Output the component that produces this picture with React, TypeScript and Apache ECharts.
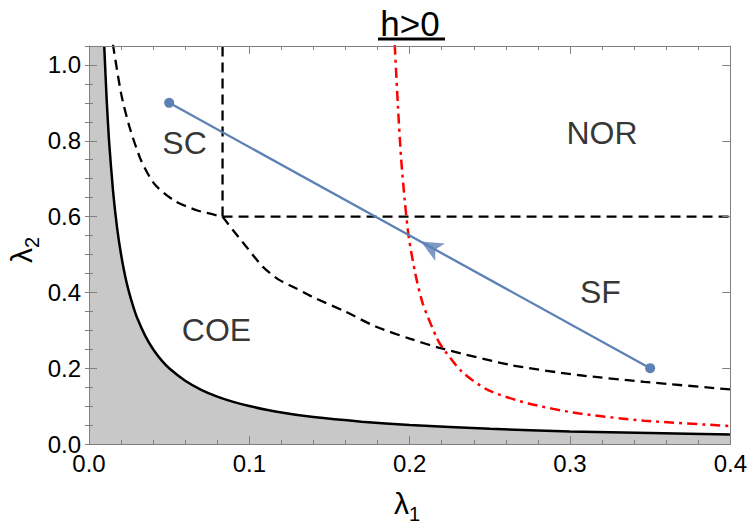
import React, { useEffect, useRef } from "react";
import * as echarts from "echarts";

// Solid boundary (gray region below)
const solidX = [0.0095, 0.011, 0.0125, 0.015, 0.0175, 0.02, 0.0225, 0.025, 0.0275, 0.03, 0.035, 0.04, 0.045, 0.05, 0.06, 0.07, 0.08, 0.09, 0.1, 0.12, 0.14, 0.17, 0.2, 0.25, 0.3, 0.35, 0.4];
const solidY = [1.05, 0.91, 0.8, 0.667, 0.571, 0.5, 0.444, 0.4, 0.364, 0.333, 0.286, 0.25, 0.222, 0.2, 0.167, 0.143, 0.125, 0.111, 0.1, 0.083, 0.071, 0.059, 0.05, 0.04, 0.033, 0.029, 0.025];

// Dashed black curve, upper branch (above the corner)
const dashUpX = [0.0149, 0.0201, 0.0253, 0.0325, 0.0408, 0.0532, 0.0677, 0.0833];
const dashUpY = [1.055, 0.923, 0.836, 0.748, 0.686, 0.642, 0.616, 0.6];
// Dashed black curve, lower branch (below the corner)
const dashLoX = [0.0833, 0.0896, 0.098, 0.1083, 0.1186, 0.129, 0.139, 0.16, 0.1787, 0.2, 0.22, 0.2635, 0.305, 0.3464, 0.4];
const dashLoY = [0.6, 0.565, 0.521, 0.468, 0.433, 0.411, 0.389, 0.349, 0.31, 0.278, 0.252, 0.208, 0.182, 0.164, 0.144];

// Red dash-dot curve
const redX = [0.1907, 0.1927, 0.1946, 0.1969, 0.1994, 0.2035, 0.2082, 0.217, 0.22, 0.2325, 0.249, 0.274, 0.305, 0.3464, 0.4];
const redY = [1.053, 0.89, 0.758, 0.644, 0.547, 0.45, 0.37, 0.279, 0.257, 0.191, 0.142, 0.107, 0.081, 0.0616, 0.0475];

// Phase boundary lines
const cornerX = 0.0833;
const cornerY = 0.6;

// Blue path
const pathX = [0.05, 0.35];
const pathY = [0.9, 0.2];
const arrowPos = [0.207, 0.534];

// Region labels
const regionNames = ["SC", "NOR", "COE", "SF"];
const regionX = [0.0596, 0.32, 0.0795, 0.319];
const regionY = [0.794, 0.82, 0.3, 0.4];

const zip = (xs: number[], ys: number[]) => xs.map((x, i) => [x, ys[i]]);

const FONT = "Liberation Sans, Arial, sans-serif";
const AX = "#808080";
const DASH = [10, 6];

export default function App() {
  const ref = useRef<HTMLDivElement>(null);
  useEffect(() => {
    const chart = echarts.init(ref.current!, null, { renderer: "svg" });
    const grid = { left: 89, right: 17, top: 46, bottom: 81 };
    const baseX = () => ({ type: "value", min: 0, max: 0.4, splitLine: { show: false }, z: 10 });
    const baseY = () => ({ type: "value", min: 0, max: 1.05, splitLine: { show: false }, z: 10 });
    const tickMaj = () => ({ show: true, inside: true, length: 8, lineStyle: { color: AX, width: 1 } });
    const tickMin = () => ({ show: true, inside: true, length: 4, lineStyle: { color: AX, width: 1 } });
    const minor = () => ({ show: true, splitNumber: 5, length: 4, lineStyle: { color: AX, width: 1 } });
    const line = () => ({ show: true, onZero: false, lineStyle: { color: AX, width: 1 } });
    chart.setOption({
      animation: false,
      backgroundColor: "#ffffff",
      grid,
      xAxis: [
        {
          ...baseX(),
          position: "bottom",
          interval: 0.1,
          axisLine: line(),
          axisTick: tickMaj(),
          minorTick: minor(),
          axisLabel: { color: "#000", fontSize: 24, fontFamily: FONT, margin: 7, formatter: (v: number) => v.toFixed(1) },
        },
        {
          ...baseX(),
          position: "top",
          interval: 0.1,
          axisLine: line(),
          axisTick: tickMaj(),
          minorTick: minor(),
          axisLabel: { show: false },
        },
      ],
      yAxis: [
        {
          ...baseY(),
          position: "left",
          interval: 0.2,
          axisLine: line(),
          axisTick: tickMaj(),
          axisLabel: {
            color: "#000", fontSize: 24, fontFamily: FONT, margin: 8,
            formatter: (v: number) => (Math.abs(v * 5 - Math.round(v * 5)) < 1e-6 ? v.toFixed(1) : ""),
          },
        },
        {
          ...baseY(),
          position: "left",
          interval: 0.05,
          axisLine: { show: false },
          axisTick: tickMin(),
          axisLabel: { show: false },
        },
        {
          ...baseY(),
          position: "right",
          interval: 0.2,
          axisLine: line(),
          axisTick: tickMaj(),
          axisLabel: { show: false },
        },
        {
          ...baseY(),
          position: "right",
          interval: 0.05,
          axisLine: { show: false },
          axisTick: tickMin(),
          axisLabel: { show: false },
        },
      ],
      series: [
        {
          type: "line",
          data: [[0, 1.05], ...zip(solidX, solidY)],
          symbol: "none",
          lineStyle: { width: 0 },
          areaStyle: { color: "#c8c8c8", opacity: 1 },
          z: 1,
        },
        {
          type: "line",
          data: zip(solidX, solidY),
          symbol: "none",
          smooth: 0.2,
          lineStyle: { color: "#000", width: 2.5 },
          z: 2,
        },
        {
          type: "line",
          data: zip(dashUpX, dashUpY),
          symbol: "none",
          smooth: 0.25,
          lineStyle: { color: "#000", width: 2.3, type: DASH },
          z: 2,
        },
        {
          type: "line",
          data: zip(dashLoX, dashLoY),
          symbol: "none",
          smooth: 0.25,
          lineStyle: { color: "#000", width: 2.3, type: DASH },
          z: 2,
        },
        {
          type: "line",
          data: [[cornerX, cornerY], [cornerX, 1.05]],
          symbol: "none",
          lineStyle: { color: "#000", width: 2.3, type: DASH },
          z: 2,
        },
        {
          type: "line",
          data: [[cornerX, cornerY], [0.4, cornerY]],
          symbol: "none",
          lineStyle: { color: "#000", width: 2.3, type: DASH },
          z: 2,
        },
        {
          type: "line",
          data: zip(redX, redY),
          symbol: "none",
          smooth: 0.25,
          lineStyle: { color: "#ff0000", width: 2.5, type: [10, 5, 3, 5] },
          z: 2,
        },
        {
          type: "line",
          data: zip(pathX, pathY),
          symbol: "circle",
          symbolSize: 10,
          itemStyle: { color: "#5e81b5" },
          lineStyle: { color: "#5e81b5", width: 2.3 },
          z: 3,
        },
        {
          type: "scatter",
          data: [arrowPos],
          symbol: "arrow",
          symbolSize: [15, 22],
          symbolRotate: 61,
          itemStyle: { color: "#5e81b5" },
          z: 4,
        },
        {
          type: "scatter",
          data: regionNames.map((n, i) => ({ name: n, value: [regionX[i], regionY[i]] })),
          symbolSize: 0,
          label: {
            show: true,
            position: "inside",
            formatter: (p: any) => p.name,
            color: "#000",
            fontSize: 32,
            fontFamily: FONT,
          },
          z: 5,
        },
      ],
      graphic: [
        {
          type: "text",
          x: 410,
          y: 23,
          style: { text: "h>0", fontSize: 35, fontFamily: FONT, fill: "#000", textAlign: "center", textVerticalAlign: "middle" },
        },
        {
          type: "line",
          shape: { x1: 378, y1: 39, x2: 445, y2: 39 },
          style: { stroke: "#000", lineWidth: 3 },
        },
        {
          type: "text",
          x: 407,
          y: 503,
          style: {
            text: "{a|λ}{b|1}",
            textAlign: "center",
            textVerticalAlign: "middle",
            rich: {
              a: { fontSize: 30, fontFamily: FONT, fill: "#000", verticalAlign: "bottom", lineHeight: 30 },
              b: { fontSize: 20, fontFamily: FONT, fill: "#000", verticalAlign: "bottom", lineHeight: 22, padding: [0, 0, -6, 0] },
            },
          },
        },
        {
          type: "text",
          x: 21,
          y: 250,
          rotation: Math.PI / 2,
          style: {
            text: "{a|λ}{b|2}",
            textAlign: "center",
            textVerticalAlign: "middle",
            rich: {
              a: { fontSize: 30, fontFamily: FONT, fill: "#000", verticalAlign: "bottom", lineHeight: 30 },
              b: { fontSize: 20, fontFamily: FONT, fill: "#000", verticalAlign: "bottom", lineHeight: 22, padding: [0, 0, -6, 0] },
            },
          },
        },
      ],
    });
    return () => chart.dispose();
  }, []);
  return <div ref={ref} style={{ position: "fixed", left: 0, top: 0, width: 750, height: 525 }} />;
}
